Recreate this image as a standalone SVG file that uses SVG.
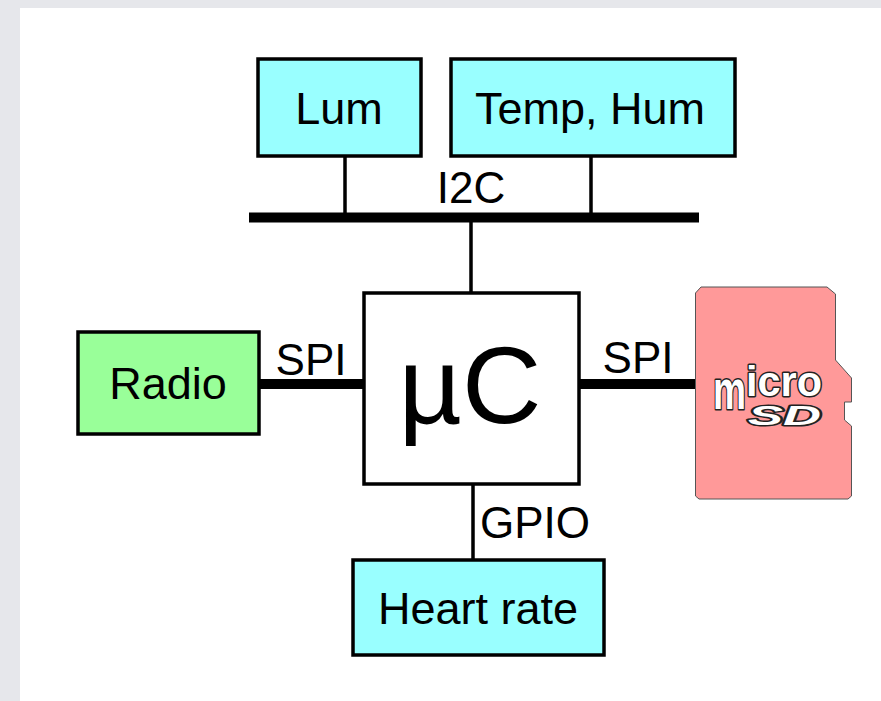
<svg xmlns="http://www.w3.org/2000/svg" width="881" height="701" viewBox="0 0 881 701">
<style>
text{font-family:"Liberation Sans",Arial,sans-serif;fill:#000;text-anchor:middle}
.box{stroke:#000;stroke-width:3.500}
.cy{fill:#99ffff}
.l{font-size:45px}
.p{font-size:44px}
.thin{stroke:#000;stroke-width:3.500;fill:none}
.thick{stroke:#000;stroke-width:10;fill:none}
.logo{font-weight:bold;fill:#fff;stroke:#222;stroke-width:3;paint-order:stroke;stroke-linejoin:round}
</style>
<rect width="881" height="701" fill="#e6e7eb"/>
<rect x="20" y="8" width="861" height="693" fill="#fff"/>
<g id="connectors">
<path class="thin" d="M345 156V217M591 156V217M471 217V293M473 484V560"/>
<path class="thick" d="M249 217.500H699M259 384H364M579 384H697"/>
</g>
<g id="lum"><rect class="box cy" x="258" y="59" width="163" height="97"/><text class="l" x="339" y="124">Lum</text></g>
<g id="temphum"><rect class="box cy" x="451" y="59" width="284" height="97"/><text class="l" x="590" y="124">Temp, Hum</text></g>
<g id="bus"><text class="p" x="471" y="203">I2C</text></g>
<g id="mcu"><rect class="box" fill="#fff" x="364" y="293" width="215" height="191"/><text x="470" y="423" font-size="110">µC</text></g>
<g id="radio"><rect class="box" fill="#99ff99" x="78" y="332" width="181" height="102"/><text class="l" x="168" y="399">Radio</text></g>
<g id="heart"><rect class="box cy" x="353" y="560" width="251" height="95"/><text class="l" x="478" y="624">Heart rate</text></g>
<g id="labels"><text class="p" x="311" y="375">SPI</text><text class="p" x="638" y="373">SPI</text><text class="p" x="535" y="538">GPIO</text></g>
<g id="microsd">
<path d="M701 287H827L835.500 294V360L851.500 378V402H844.500V420L851.500 426V496L848 499H699L695.500 496V293Z" fill="#ff9999" stroke="#555" stroke-width="1"/>
<text class="logo" y="409" style="text-anchor:start"><tspan x="713" font-size="56" textLength="33" lengthAdjust="spacingAndGlyphs">m</tspan><tspan x="746" y="396" font-size="42" textLength="76" lengthAdjust="spacingAndGlyphs">icro</tspan></text>
<text class="logo" x="748" y="425" font-size="28" textLength="73" lengthAdjust="spacingAndGlyphs" style="text-anchor:start;font-style:italic">SD</text>
</g>
</svg>
